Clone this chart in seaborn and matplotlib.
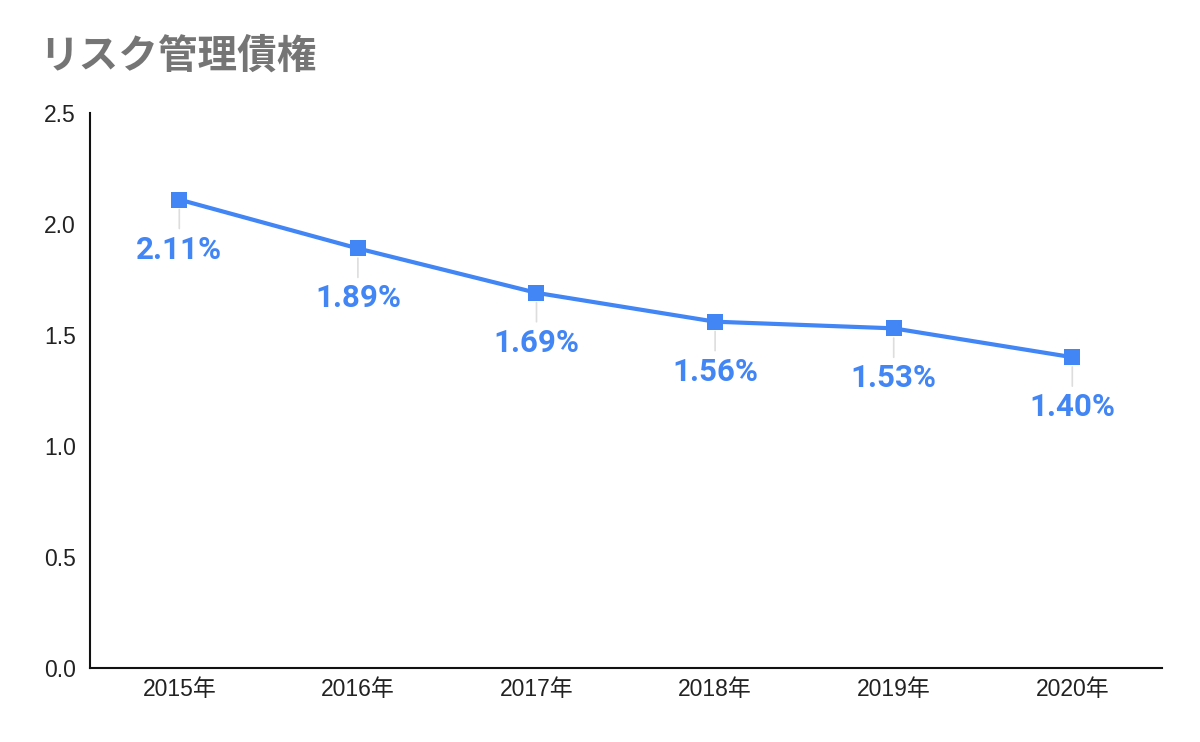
import matplotlib
matplotlib.use("Agg")
import matplotlib.pyplot as plt
import seaborn as sns
import pandas as pd

years = ["2015年", "2016年", "2017年", "2018年", "2019年", "2020年"]
values = [2.11, 1.89, 1.69, 1.56, 1.53, 1.40]
labels = ["2.11%", "1.89%", "1.69%", "1.56%", "1.53%", "1.40%"]
yticks = [0.0, 0.5, 1.0, 1.5, 2.0, 2.5]
title = "リスク管理債権"

sns.set_theme(style="white")
plt.rcParams['font.family'] = ['Liberation Sans', 'Noto Sans CJK JP', 'DejaVu Sans']

df = pd.DataFrame({"year": years, "value": values})
color = "#4285F4"

fig = plt.figure(figsize=(12, 7.42), dpi=100)
ax = fig.add_axes([0.075, 0.0997, 0.893, 0.748])
sns.lineplot(data=df, x="year", y="value", ax=ax, color=color, linewidth=3,
             marker="s", markersize=12, markeredgewidth=0, sort=False)

ax.set_xlim(-0.5, len(years) - 0.5)
ax.set_ylim(0, 2.5)
ax.set_yticks(yticks)
ax.set_yticklabels([f"{t:.1f}" for t in yticks])
ax.tick_params(axis='both', length=0, labelsize=16.5, colors="#222222")
ax.tick_params(axis='y', pad=10)
ax.tick_params(axis='x', pad=7)
ax.set_xlabel("")
ax.set_ylabel("")
ax.grid(False)
for s in ["top", "right"]:
    ax.spines[s].set_visible(False)
for s in ["left", "bottom"]:
    ax.spines[s].set_color("#111111")
    ax.spines[s].set_linewidth(1.5)

for i, (v, lab) in enumerate(zip(values, labels)):
    ax.annotate(lab, xy=(i, v), xytext=(0, -36), textcoords="offset points",
                ha="center", va="center", fontsize=22.5, fontweight="bold",
                color=color, family=["Roboto", "DejaVu Sans"],
                arrowprops=dict(arrowstyle="-", color="#dddddd", lw=1.2,
                                relpos=(0.5, 1.0), shrinkA=2, shrinkB=7))

fig.text(0.033, 0.925, title, fontsize=28.5, fontweight="bold", color="#757575",
         family=["Noto Sans CJK JP", "DejaVu Sans"], ha="left", va="center")

fig.savefig("out.png", dpi=100)
